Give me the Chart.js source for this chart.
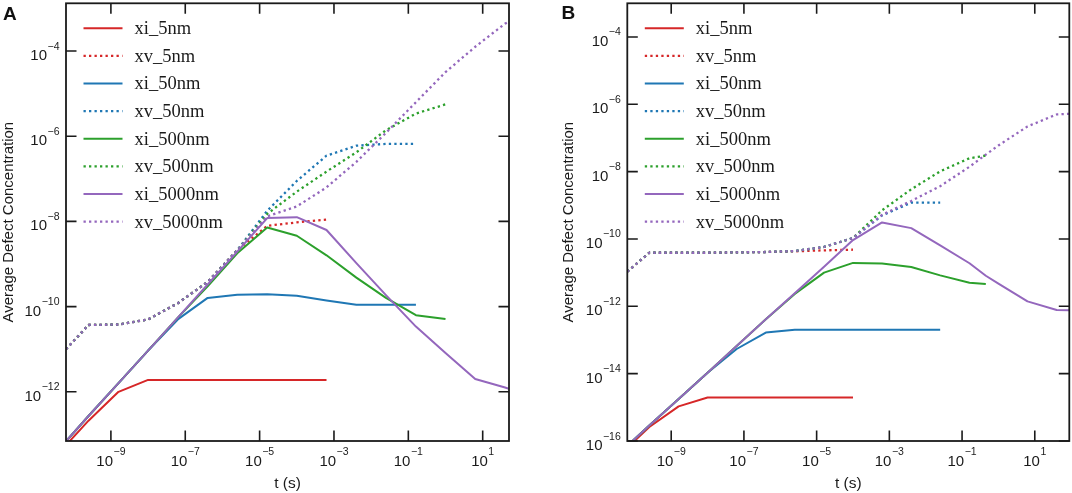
<!DOCTYPE html>
<html>
<head>
<meta charset="utf-8">
<script src="https://cdn.jsdelivr.net/npm/chart.js@4.4.0/dist/chart.umd.min.js"></script>
<style>
  body { margin: 0; background: #fff; width: 1072px; height: 493px; overflow: hidden; position: relative; }
  .panel { position: absolute; top: 0; height: 493px; }
  #wrapA { left: 0; width: 530px; }
  #wrapB { left: 560px; width: 512px; }
  .tag { position: absolute; font: bold 19px "Liberation Sans", Arial, sans-serif; line-height: 19px; color: #111; }
</style>
</head>
<body>
<div class="panel" id="wrapA"><canvas id="chartA"></canvas></div>
<div class="panel" id="wrapB"><canvas id="chartB"></canvas></div>
<div class="tag" style="left:3px;top:3.5px">A</div>
<div class="tag" style="left:561.5px;top:3px">B</div>
<script>
// series names, in legend order
const names = ['xi_5nm', 'xv_5nm', 'xi_50nm', 'xv_50nm', 'xi_500nm', 'xv_500nm', 'xi_5000nm', 'xv_5000nm'];
const colors = ['#d62728', '#d62728', '#1f77b4', '#1f77b4', '#2ca02c', '#2ca02c', '#9467bd', '#9467bd'];

// tick labels (decades)
const xTicks = [1e-9, 1e-7, 1e-5, 1e-3, 1e-1, 1e1];
const yTicksA = [1e-12, 1e-10, 1e-8, 1e-6, 1e-4];
const yTicksB = [1e-16, 1e-14, 1e-12, 1e-10, 1e-8, 1e-6, 1e-4];

// ---- panel A ----
const tA = [6.2e-11, 2.5e-10, 1.6e-9, 1.0e-8, 6.3e-8, 4.0e-7, 2.5e-6, 1.6e-5, 1.0e-4, 6.3e-4, 4.0e-3, 2.5e-2, 0.16, 1.0, 6.3, 40, 51];
const xiA5 = [5.6e-14, 2.1e-13, 1.0e-12, 1.9e-12, 1.9e-12, 1.9e-12, 1.9e-12, 1.9e-12, 1.9e-12, 1.9e-12];
const xvA5 = [1.0e-11, 3.7e-11, 3.8e-11, 5.0e-11, 1.2e-10, 3.8e-10, 2.1e-9, 7.9e-9, 9.5e-9, 1.1e-8];
const xiA50 = [6.9e-14, 2.7e-13, 1.6e-12, 9.3e-12, 5.0e-11, 1.6e-10, 1.9e-10, 1.95e-10, 1.8e-10, 1.4e-10, 1.1e-10, 1.1e-10, 1.1e-10];
const xvA50 = [1.0e-11, 3.7e-11, 3.8e-11, 5.0e-11, 1.2e-10, 3.8e-10, 2.1e-9, 1.78e-8, 8.9e-8, 3.5e-7, 6.0e-7, 6.6e-7, 6.6e-7];
const xiA500 = [6.9e-14, 2.7e-13, 1.6e-12, 9.3e-12, 5.5e-11, 3.0e-10, 1.78e-9, 7.2e-9, 4.6e-9, 1.6e-9, 4.8e-10, 1.6e-10, 6.3e-11, 5.1e-11];
const xvA500 = [1.0e-11, 3.7e-11, 3.8e-11, 5.0e-11, 1.2e-10, 3.8e-10, 2.1e-9, 1.5e-8, 5.0e-8, 1.48e-7, 4.2e-7, 1.38e-6, 3.4e-6, 5.6e-6];
const xiA5000 = [6.9e-14, 2.7e-13, 1.6e-12, 9.3e-12, 5.5e-11, 3.3e-10, 1.95e-9, 1.2e-8, 1.26e-8, 6.3e-9, 1.05e-9, 1.86e-10, 3.4e-11, 8.1e-12, 2.0e-12, 1.26e-12, 1.17e-12];
const xvA5000 = [1.0e-11, 3.7e-11, 3.8e-11, 5.0e-11, 1.2e-10, 3.8e-10, 2.1e-9, 1.32e-8, 2.24e-8, 6.3e-8, 2.5e-7, 1.2e-6, 6.3e-6, 3.2e-5, 1.26e-4, 4.4e-4, 4.9e-4];

// ---- panel B ----
const tB = [6.2e-11, 2.5e-10, 1.6e-9, 1.0e-8, 6.3e-8, 4.0e-7, 2.5e-6, 1.6e-5, 1.0e-4, 6.3e-4, 4.0e-3, 2.5e-2, 0.16, 0.45, 1.0, 6.3, 40, 89];
const xiB5 = [6.3e-17, 2.6e-16, 1.07e-15, 1.95e-15, 1.95e-15, 1.95e-15, 1.95e-15, 1.95e-15, 1.95e-15];
const xvB5 = [1.07e-11, 3.9e-11, 3.9e-11, 3.9e-11, 4.0e-11, 4.1e-11, 4.3e-11, 4.6e-11, 4.8e-11];
const xiB50 = [7.2e-17, 2.9e-16, 1.78e-15, 1.07e-14, 5.4e-14, 1.66e-13, 2.0e-13, 2.0e-13, 2.0e-13, 2.0e-13, 2.0e-13, 2.0e-13];
const xvB50 = [1.07e-11, 3.9e-11, 3.9e-11, 3.9e-11, 4.0e-11, 4.1e-11, 4.4e-11, 5.8e-11, 1.07e-10, 5.0e-10, 1.2e-9, 1.2e-9];
const xiB500 = [7.2e-17, 2.9e-16, 1.78e-15, 1.07e-14, 6.6e-14, 4.1e-13, 2.34e-12, 1.0e-11, 1.95e-11, 1.86e-11, 1.48e-11, 8.3e-12, 5.0e-12, 4.6e-12];
const xvB500 = [1.07e-11, 3.9e-11, 3.9e-11, 3.9e-11, 4.0e-11, 4.1e-11, 4.4e-11, 5.8e-11, 1.07e-10, 7.1e-10, 3.0e-9, 1.02e-8, 2.5e-8, 3.0e-8];
const xiB5000 = [7.2e-17, 2.9e-16, 1.78e-15, 1.07e-14, 6.6e-14, 4.1e-13, 2.45e-12, 1.5e-11, 9.3e-11, 3.1e-10, 2.1e-10, 6.5e-11, 1.9e-11, 8.1e-12, 4.7e-12, 1.4e-12, 7.8e-13, 7.6e-13];
const xvB5000 = [1.07e-11, 3.9e-11, 3.9e-11, 3.9e-11, 4.0e-11, 4.1e-11, 4.4e-11, 5.8e-11, 1.07e-10, 5.2e-10, 1.35e-9, 3.7e-9, 1.4e-8, 3.2e-8, 6.0e-8, 2.2e-7, 5.0e-7, 5.2e-7];

const SANS = '"Liberation Sans", Arial, sans-serif';
const SERIF = '"Liberation Serif", "Times New Roman", serif';
const DOT = [2.3, 3.2];

function expText(v) {
  const e = Math.round(Math.log10(v));
  return e < 0 ? '\u2212' + (-e) : String(e);
}

// frame, inward ticks on four sides, 10^n labels and the legend inside the plot
const framePlugin = {
  id: 'frame',
  afterDatasetsDraw(chart, args, opts) {
    const { ctx, chartArea: a, scales: { x, y } } = chart;
    ctx.save();
    ctx.strokeStyle = '#1a1a1a';
    ctx.lineWidth = 1.8;
    ctx.strokeRect(a.left, a.top, a.right - a.left, a.bottom - a.top);
    ctx.lineWidth = 1.6;
    ctx.beginPath();
    opts.xTicks.forEach(v => {
      const px = x.getPixelForValue(v);
      ctx.moveTo(px, a.bottom); ctx.lineTo(px, a.bottom - 10.5);
      ctx.moveTo(px, a.top); ctx.lineTo(px, a.top + 10.5);
    });
    opts.yTicks.forEach(v => {
      const py = y.getPixelForValue(v);
      ctx.moveTo(a.left, py); ctx.lineTo(a.left + 10.5, py);
      ctx.moveTo(a.right, py); ctx.lineTo(a.right - 10.5, py);
    });
    ctx.stroke();

    ctx.fillStyle = '#1a1a1a';
    ctx.textBaseline = 'alphabetic';
    const big = '15px ' + SANS, small = '10.5px ' + SANS;
    opts.yTicks.forEach(v => {
      const py = y.getPixelForValue(v);
      const ex = expText(v);
      ctx.textAlign = 'right';
      ctx.font = small;
      const ew = ctx.measureText(ex).width;
      ctx.fillText(ex, a.left - 6.5, py - 1.5);
      ctx.font = big;
      ctx.fillText('10', a.left - 7 - ew, py + 9);
    });
    opts.xTicks.forEach(v => {
      const px = x.getPixelForValue(v);
      const ex = expText(v);
      ctx.textAlign = 'left';
      ctx.font = big;
      const w10 = ctx.measureText('10').width;
      ctx.font = small;
      const ew = ctx.measureText(ex).width;
      const x0 = px - (w10 + ew + 0.5) / 2;
      ctx.fillText(ex, x0 + w10 + 0.5, a.bottom + 14);
      ctx.font = big;
      ctx.fillText('10', x0, a.bottom + 25);
    });

    // legend
    ctx.font = '18.5px ' + SERIF;
    ctx.textAlign = 'left';
    ctx.textBaseline = 'middle';
    chart.data.datasets.forEach((ds, i) => {
      const ly = a.top + 25 + i * 27.63;
      const lx = a.left + 17.5;
      ctx.strokeStyle = ds.borderColor;
      ctx.lineWidth = ds.borderWidth;
      ctx.setLineDash(ds.borderDash || []);
      ctx.beginPath();
      ctx.moveTo(lx, ly); ctx.lineTo(lx + 39, ly);
      ctx.stroke();
      ctx.setLineDash([]);
      ctx.fillStyle = '#1a1a1a';
      ctx.fillText(ds.label, lx + 51, ly + 1);
    });
    ctx.restore();
  }
};

function makeChart(id, t, series, yTicks, xMin, xMax, yMin, yMax, axisW, padRight) {
  const datasets = series.map((vals, i) => ({
    label: names[i],
    data: vals,
    borderColor: colors[i],
    backgroundColor: colors[i],
    borderWidth: i % 2 ? 2.3 : 2,
    borderDash: i % 2 ? DOT : [],
    borderCapStyle: 'butt',
    borderJoinStyle: 'round',
    pointRadius: 0,
    tension: 0,
    fill: false,
    order: 7 - i
  }));
  return new Chart(document.getElementById(id), {
    type: 'line',
    data: { labels: t, datasets: datasets },
    options: {
      responsive: true,
      maintainAspectRatio: false,
      animation: false,
      layout: { padding: { top: 3.3, right: padRight, bottom: 0, left: 0 } },
      plugins: {
        legend: { display: false },
        tooltip: { enabled: false },
        frame: { xTicks: xTicks, yTicks: yTicks }
      },
      scales: {
        x: {
          type: 'logarithmic',
          min: xMin, max: xMax,
          bounds: 'data',
          grid: { display: false },
          border: { display: false },
          ticks: { display: false },
          afterBuildTicks: s => { s.ticks = xTicks.map(v => ({ value: v })); },
          afterFit: s => { s.height = 52; },
          title: { display: true, text: 't (s)', color: '#1a1a1a', font: { family: SANS, size: 15.5 }, padding: 0 }
        },
        y: {
          type: 'logarithmic',
          min: yMin, max: yMax,
          bounds: 'data',
          grid: { display: false },
          border: { display: false },
          ticks: { display: false },
          afterBuildTicks: s => { s.ticks = yTicks.map(v => ({ value: v })); },
          afterFit: s => { s.width = axisW; },
          title: { display: true, text: 'Average Defect Concentration', color: '#1a1a1a', font: { family: SANS, size: 15 }, padding: 0 }
        }
      }
    },
    plugins: [framePlugin]
  });
}

makeChart('chartA', tA, [xiA5, xvA5, xiA50, xvA50, xiA500, xvA500, xiA5000, xvA5000],
  yTicksA, 6.2e-11, 51, 7.0e-14, 1.32e-3, 66, 21);
makeChart('chartB', tB, [xiB5, xvB5, xiB50, xvB50, xiB500, xvB500, xiB5000, xvB5000],
  yTicksB, 6.2e-11, 89, 1e-16, 1e-3, 67.3, 2.7);
</script>
</body>
</html>
